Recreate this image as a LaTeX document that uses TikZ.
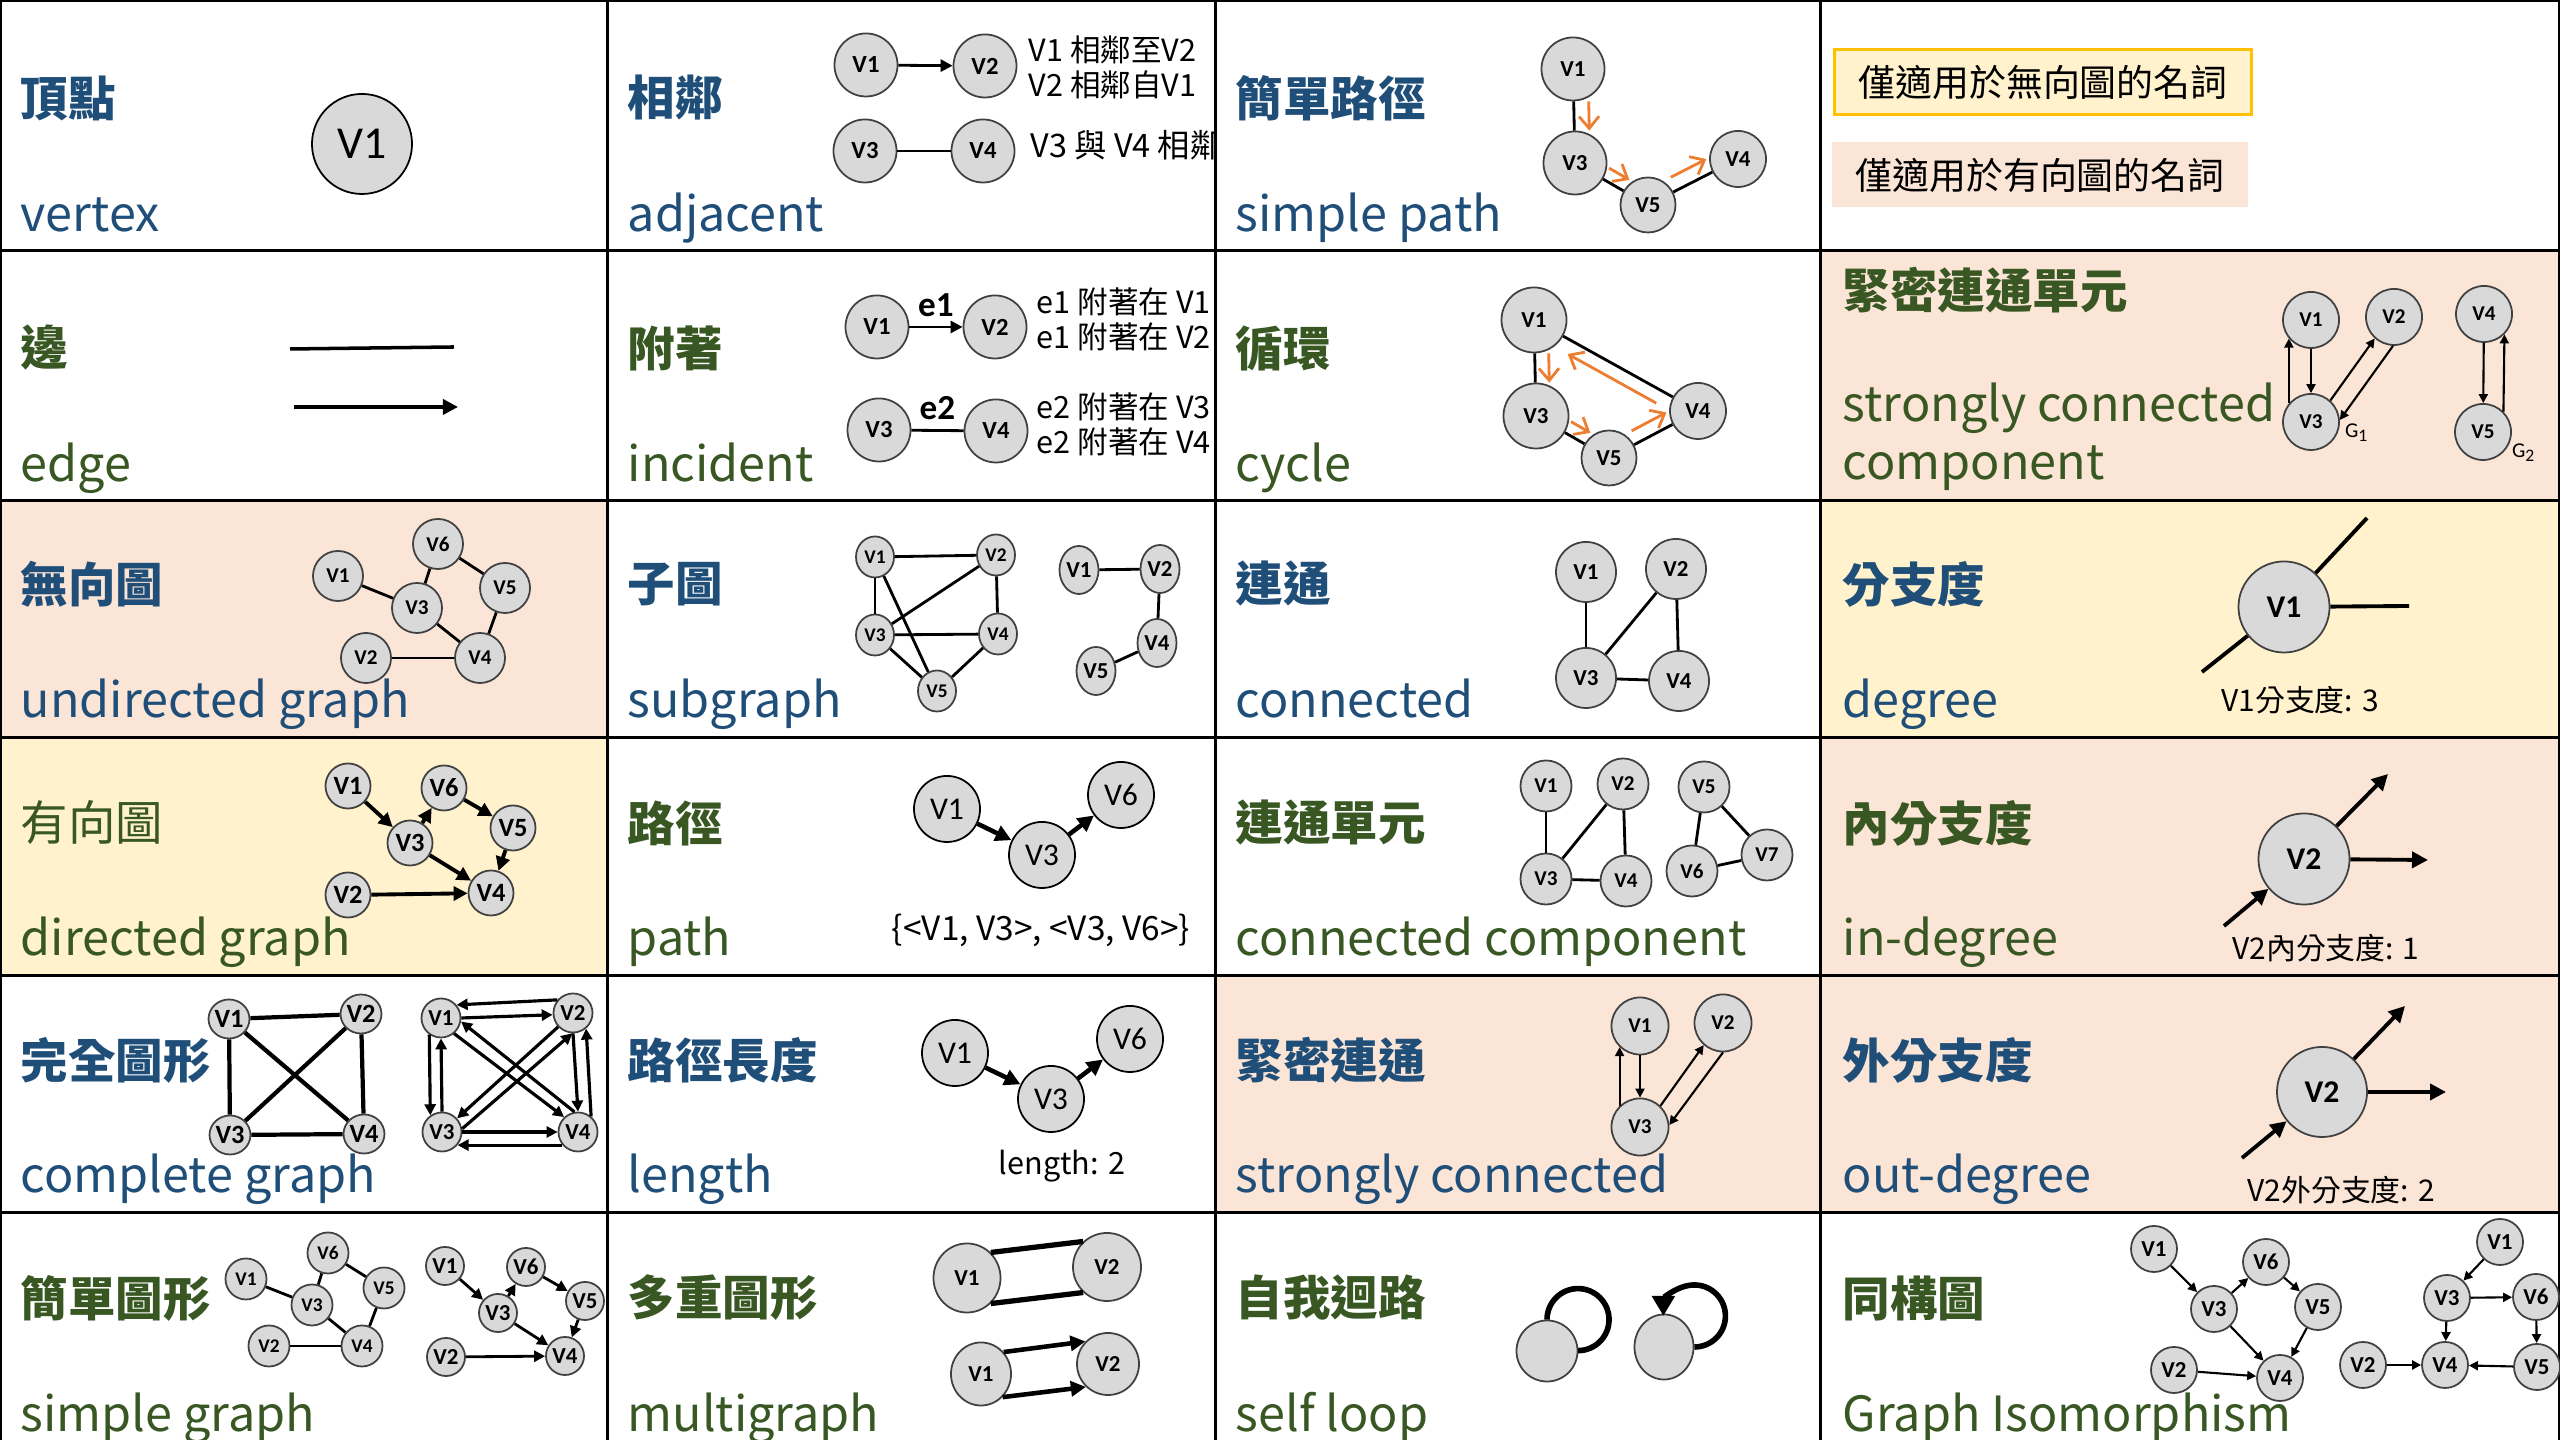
\documentclass[tikz,border=0pt]{standalone}
\usepackage{fontspec}
\setmainfont{Noto Sans CJK TC}
\newfontfamily\nodofont{Carlito}
\usetikzlibrary{arrows.meta,positioning,shapes.geometric,calc}
\definecolor{cazul}{HTML}{1F4E79}
\definecolor{cverde}{HTML}{385723}
\definecolor{cdurazno}{HTML}{FBE5D6}
\definecolor{camarillo}{HTML}{FFF2CC}
\definecolor{camarillob}{HTML}{FFC000}
\definecolor{cnodo}{HTML}{D9D9D9}
\definecolor{cnodob}{HTML}{404040}
\definecolor{cnaranja}{HTML}{ED7D31}
\newcommand{\tam}[1]{\fontsize{#1}{#1}\selectfont}
\tikzset{
  rejilla/.style={draw=black,line width=0.85pt},
  titulo/.style={anchor=west,inner sep=0pt,font=\tam{13.5pt}\bfseries},
  tituloen/.style={anchor=base west,inner sep=0pt,font=\tam{13.8pt}},
  tazul/.style={titulo,text=cazul},
  tverde/.style={titulo,text=cverde},
  eazul/.style={tituloen,text=cazul},
  everde/.style={tituloen,text=cverde},
  vertice/.style={ellipse,draw=cnodob,fill=cnodo,inner sep=0pt,line width=0.5pt,
                  minimum size=5mm,font=\nodofont\bfseries\tam{6pt}},
  arista/.style={draw=black,line width=0.8pt},
  flecha/.style={arista,-{Triangle[length=1.2mm,width=1.2mm]}},
  flechita/.style={draw=black,line width=0.6pt,-{Triangle[length=0.9mm,width=0.9mm]}},
  naranja/.style={draw=cnaranja,line width=0.8pt,-{Straight Barb[length=1.2mm,width=2mm]}},
  lazo/.style={draw=black,line width=1.6pt},
  nota/.style={inner sep=0pt,font=\tam{8.7pt}},
  etiq/.style={inner sep=0pt,font=\nodofont\bfseries\tam{10pt}},
  caja/.style={minimum width=41.6mm,minimum height=6.5mm,inner sep=0pt,font=\tam{10.5pt}},
}

\begin{document}
\begin{tikzpicture}[x=0.01cm,y=0.01cm]
\useasboundingbox (0,0) rectangle (2560,1440);
\clip (0,0) rectangle (2560,1440);

% fondos de las celdas
\fill[cdurazno] (1820,939) rectangle (2560,1189);
\fill[cdurazno] (0,702) rectangle (607,939);
\fill[camarillo] (1820,702) rectangle (2560,939);
\fill[camarillo] (0,464) rectangle (607,702);
\fill[cdurazno] (1820,464) rectangle (2560,702);
\fill[cdurazno] (1215,227) rectangle (1820,464);
\fill[cdurazno] (1820,227) rectangle (2560,464);

% rejilla
\draw[rejilla] (1,0) -- (1,1439) -- (2559,1439) -- (2559,0);
\foreach \x in {607,1215,1820} \draw[rejilla] (\x,0) -- (\x,1440);
\foreach \y in {1189,939,702,464,227} \draw[rejilla] (0,\y) -- (2560,\y);

% titulos
\node[tazul] (t-vertice) at (20,1342) {頂點};
\node[eazul] (e-vertice) at (20,1208) {vertex};
\node[tazul] (t-ady) at (627,1342) {相鄰};
\node[eazul] (e-ady) at (627,1208) {adjacent};
\node[tazul] (t-simple) at (1235,1342) {簡單路徑};
\node[eazul] (e-simple) at (1235,1208) {simple path};

\node[tverde] (t-arista) at (20,1092) {邊};
\node[everde] (e-arista) at (20,958) {edge};
\node[tverde] (t-inc) at (627,1092) {附著};
\node[everde] (e-inc) at (627,958) {incident};
\node[tverde] (t-ciclo) at (1235,1092) {循環};
\node[everde] (e-ciclo) at (1235,958) {cycle};
\node[tverde] (t-scc) at (1842,1150) {緊密連通單元};
\node[everde] (e-scc1) at (1842,1018) {strongly connected};
\node[everde] (e-scc2) at (1842,960) {component};

\node[tazul] (t-nodir) at (20,856) {無向圖};
\node[eazul] (e-nodir) at (20,722) {undirected graph};
\node[tazul] (t-sub) at (627,856) {子圖};
\node[eazul] (e-sub) at (627,722) {subgraph};
\node[tazul] (t-con) at (1235,856) {連通};
\node[eazul] (e-con) at (1235,722) {connected};
\node[tazul] (t-grado) at (1842,856) {分支度};
\node[eazul] (e-grado) at (1842,722) {degree};

\node[tverde,font=\tam{13.5pt}] (t-dir) at (20,617) {有向圖};
\node[everde] (e-dir) at (20,484) {directed graph};
\node[tverde] (t-cam) at (627,617) {路徑};
\node[everde] (e-cam) at (627,484) {path};
\node[tverde] (t-cc) at (1235,617) {連通單元};
\node[everde] (e-cc) at (1235,484) {connected component};
\node[tverde] (t-gin) at (1842,617) {內分支度};
\node[everde] (e-gin) at (1842,484) {in-degree};

\node[tazul] (t-comp) at (20,380) {完全圖形};
\node[eazul] (e-comp) at (20,247) {complete graph};
\node[tazul] (t-lon) at (627,380) {路徑長度};
\node[eazul] (e-lon) at (627,247) {length};
\node[tazul] (t-fuerte) at (1235,380) {緊密連通};
\node[eazul] (e-fuerte) at (1235,247) {strongly connected};
\node[tazul] (t-gout) at (1842,380) {外分支度};
\node[eazul] (e-gout) at (1842,247) {out-degree};

\node[tverde] (t-sg) at (20,142) {簡單圖形};
\node[everde] (e-sg) at (20,8) {simple graph};
\node[tverde] (t-mul) at (627,142) {多重圖形};
\node[everde] (e-mul) at (627,8) {multigraph};
\node[tverde] (t-lazo) at (1235,142) {自我迴路};
\node[everde] (e-lazo) at (1235,8) {self loop};
\node[tverde] (t-iso) at (1842,142) {同構圖};
\node[everde] (e-iso) at (1842,8) {Graph Isomorphism};

% leyenda
\node[caja,fill=camarillo,draw=camarillob,line width=0.8pt] (ley-a) at (2043,1358) {僅適用於無向圖的名詞};
\node[caja,fill=cdurazno] (ley-b) at (2040,1265) {僅適用於有向圖的名詞};

% vertex
\node[vertice,minimum size=10mm,draw=black,font=\nodofont\tam{13pt}] (vtx-v1) at (362,1296) {V1};

% edge
\coordinate (ari-a) at (290,1091);
\coordinate (ari-b) at (454,1093);
\coordinate (ari-c) at (294,1033);
\coordinate (ari-d) at (458,1033);
\draw[arista,line width=1pt] (ari-a) -- (ari-b);
\draw[arista,line width=1pt,-{Triangle[length=1.5mm,width=1.5mm]}] (ari-c) -- (ari-d);

% adjacent
\begin{scope}[vertice/.append style={minimum size=6.3mm,font=\nodofont\bfseries\tam{7pt}}]
\node[vertice] (ady-v1) at (866,1375) {V1};
\node[vertice] (ady-v2) at (985,1374) {V2};
\node[vertice] (ady-v3) at (865,1289) {V3};
\node[vertice] (ady-v4) at (983,1289) {V4};
\end{scope}
\draw[flecha] (ady-v1) -- (ady-v2);
\draw[arista] (ady-v3) -- (ady-v4);
\node[nota,anchor=west] (ady-t1) at (1028,1390) {V1 相鄰至V2};
\node[nota,anchor=west] (ady-t2) at (1028,1355) {V2 相鄰自V1};
\begin{scope}
\clip (607,1189) rectangle (1215,1440);
\node[nota,anchor=west,font=\tam{9.2pt}] (ady-t3) at (1030,1295) {V3 與 V4 相鄰};
\end{scope}

% incident
\begin{scope}[vertice/.append style={minimum size=6.3mm,font=\nodofont\bfseries\tam{7pt}}]
\node[vertice] (inc-v1) at (877,1113) {V1};
\node[vertice] (inc-v2) at (995,1113) {V2};
\node[vertice] (inc-v3) at (879,1010) {V3};
\node[vertice] (inc-v4) at (996,1009) {V4};
\end{scope}
\draw[flecha] (inc-v1) -- node[etiq,midway,above=0.9mm] (inc-e1) {e1} (inc-v2);
\draw[arista] (inc-v3) -- node[etiq,midway,above=0.9mm] (inc-e2) {e2} (inc-v4);
\node[nota,anchor=west] (inc-t1) at (1036,1138) {e1 附著在 V1};
\node[nota,anchor=west] (inc-t2) at (1036,1103) {e1 附著在 V2};
\node[nota,anchor=west] (inc-t3) at (1036,1033) {e2 附著在 V3};
\node[nota,anchor=west] (inc-t4) at (1036,998) {e2 附著在 V4};

% simple path
\begin{scope}[vertice/.append style={minimum size=6.3mm,font=\nodofont\bfseries\tam{6.5pt}}]
\node[vertice] (sp-v1) at (1573,1371) {V1};
\node[vertice] (sp-v3) at (1575,1277) {V3};
\node[vertice,minimum size=5.5mm] (sp-v5) at (1648,1235) {V5};
\node[vertice,minimum size=5.6mm] (sp-v4) at (1738,1281) {V4};
\end{scope}
\draw[arista] (sp-v1) -- (sp-v3);
\draw[arista] (sp-v3) -- (sp-v5);
\draw[arista] (sp-v5) -- (sp-v4);
\draw[naranja,transform canvas={shift={(15,0)}}] (sp-v1) -- (sp-v3);
\draw[naranja,transform canvas={shift={(6,11)}}] (sp-v3) -- (sp-v5);
\draw[naranja,transform canvas={shift={(-6,13)}},shorten <=0.4mm] (sp-v5) -- (sp-v4);

% cycle
\begin{scope}[vertice/.append style={minimum size=6.5mm,font=\nodofont\bfseries\tam{6.5pt}}]
\node[vertice] (cy-v1) at (1534,1120) {V1};
\node[vertice] (cy-v3) at (1536,1024) {V3};
\node[vertice,minimum size=5.5mm] (cy-v5) at (1609,982) {V5};
\node[vertice,minimum size=5.6mm] (cy-v4) at (1698,1029) {V4};
\end{scope}
\draw[arista] (cy-v1) -- (cy-v3);
\draw[arista] (cy-v3) -- (cy-v5);
\draw[arista] (cy-v5) -- (cy-v4);
\draw[arista] (cy-v4) -- (cy-v1);
\draw[naranja,transform canvas={shift={(14,0)}}] (cy-v1) -- (cy-v3);
\draw[naranja,transform canvas={shift={(6,11)}}] (cy-v3) -- (cy-v5);
\draw[naranja,transform canvas={shift={(-6,12)}},shorten <=0.4mm] (cy-v5) -- (cy-v4);
\draw[naranja,transform canvas={shift={(-6,-12)}},shorten <=1.2mm,shorten >=1.2mm] (cy-v4) -- (cy-v1);

% strongly connected component
\begin{scope}[vertice/.append style={minimum size=5.6mm,font=\nodofont\bfseries\tam{6pt}}]
\node[vertice] (scc-v1) at (2311,1120) {V1};
\node[vertice] (scc-v2) at (2394,1123) {V2};
\node[vertice] (scc-v3) at (2311,1018) {V3};
\node[vertice] (scc-v4) at (2484,1126) {V4};
\node[vertice] (scc-v5) at (2483,1008) {V5};
\end{scope}
\draw[flechita] (scc-v1) -- (scc-v3);
\draw[flechita] (scc-v3.140) -- (scc-v1.220);
\draw[flechita] (scc-v3.48) -- (scc-v2.228);
\draw[flechita] (scc-v2.268) -- (scc-v3.4);
\draw[flechita] (scc-v4) -- (scc-v5);
\draw[flechita] (scc-v5.45) -- (scc-v4.315);
\node[font=\nodofont\tam{6pt},inner sep=0pt] (scc-g1) at (2357,1007) {G\textsubscript{1}};
\node[font=\nodofont\tam{6pt},inner sep=0pt] (scc-g2) at (2524,987) {G\textsubscript{2}};

% undirected graph
\begin{scope}[vertice/.append style={minimum size=5mm,font=\nodofont\bfseries\tam{6pt}}]
\node[vertice] (nd-v1) at (338,864) {V1};
\node[vertice] (nd-v6) at (438,896) {V6};
\node[vertice] (nd-v3) at (417,832) {V3};
\node[vertice] (nd-v5) at (505,852) {V5};
\node[vertice] (nd-v2) at (366,782) {V2};
\node[vertice] (nd-v4) at (480,782) {V4};
\end{scope}
\draw[arista] (nd-v1) -- (nd-v3);
\draw[arista] (nd-v3) -- (nd-v6);
\draw[arista] (nd-v6) -- (nd-v5);
\draw[arista] (nd-v5) -- (nd-v4);
\draw[arista] (nd-v3) -- (nd-v4);
\draw[arista] (nd-v2) -- (nd-v4);

% directed graph
\begin{scope}[vertice/.append style={minimum size=4.5mm,font=\nodofont\bfseries\tam{7.5pt}},
              flecha/.append style={line width=1.1pt,-{Triangle[length=1.4mm,width=1.4mm]}}]
\node[vertice] (dg-v1) at (348,654) {V1};
\node[vertice] (dg-v6) at (444,652) {V6};
\node[vertice] (dg-v3) at (410,597) {V3};
\node[vertice] (dg-v5) at (513,612) {V5};
\node[vertice] (dg-v2) at (348,545) {V2};
\node[vertice] (dg-v4) at (491,547) {V4};
\draw[flecha] (dg-v1) -- (dg-v3);
\draw[flecha] (dg-v3) -- (dg-v6);
\draw[flecha] (dg-v6) -- (dg-v5);
\draw[flecha] (dg-v5) -- (dg-v4);
\draw[flecha] (dg-v3) -- (dg-v4);
\draw[flecha] (dg-v2) -- (dg-v4);
\end{scope}

% subgraph
\begin{scope}[vertice/.append style={minimum width=3.8mm,minimum height=4.1mm,font=\nodofont\bfseries\tam{5.5pt}}]
\node[vertice] (sub-v1) at (875,883) {V1};
\node[vertice] (sub-v2) at (996,885) {V2};
\node[vertice] (sub-v3) at (875,805) {V3};
\node[vertice] (sub-v4) at (998,806) {V4};
\node[vertice] (sub-v5) at (937,749) {V5};
\end{scope}
\draw[arista] (sub-v1) -- (sub-v2);
\draw[arista] (sub-v1) -- (sub-v3);
\draw[arista] (sub-v1) -- (sub-v5);
\draw[arista] (sub-v2) -- (sub-v3);
\draw[arista] (sub-v2) -- (sub-v4);
\draw[arista] (sub-v3) -- (sub-v4);
\draw[arista] (sub-v3) -- (sub-v5);
\draw[arista] (sub-v4) -- (sub-v5);
\begin{scope}[vertice/.append style={minimum width=3.9mm,minimum height=4.8mm,font=\nodofont\bfseries\tam{6.5pt}}]
\node[vertice] (sub-w1) at (1079,870) {V1};
\node[vertice] (sub-w2) at (1160,871) {V2};
\node[vertice] (sub-w4) at (1157,797) {V4};
\node[vertice] (sub-w5) at (1096,769) {V5};
\end{scope}
\draw[arista] (sub-w1) -- (sub-w2);
\draw[arista] (sub-w2) -- (sub-w4);
\draw[arista] (sub-w4) -- (sub-w5);

% path
\begin{scope}[vertice/.append style={minimum size=6.6mm,draw=black,font=\nodofont\tam{9pt}},
              flecha/.append style={line width=1.3pt,-{Triangle[length=1.6mm,width=1.6mm]}}]
\node[vertice] (cam-v1) at (947,631) {V1};
\node[vertice] (cam-v3) at (1042,585) {V3};
\node[vertice] (cam-v6) at (1121,645) {V6};
\draw[flecha] (cam-v1) -- (cam-v3);
\draw[flecha] (cam-v3) -- (cam-v6);
\end{scope}
\node[nota,font=\tam{9.5pt}] (cam-t) at (1041,510) {\{<V1, V3>, <V3, V6>\}};

% connected
\begin{scope}[vertice/.append style={minimum size=6mm,font=\nodofont\bfseries\tam{6.5pt}}]
\node[vertice] (con-v1) at (1586,868) {V1};
\node[vertice] (con-v2) at (1676,871) {V2};
\node[vertice] (con-v3) at (1586,762) {V3};
\node[vertice] (con-v4) at (1679,759) {V4};
\end{scope}
\draw[arista] (con-v1) -- (con-v3);
\draw[arista] (con-v2) -- (con-v3);
\draw[arista] (con-v2) -- (con-v4);
\draw[arista] (con-v3) -- (con-v4);

% connected component
\begin{scope}[vertice/.append style={minimum size=5.1mm,font=\nodofont\bfseries\tam{6pt}}]
\node[vertice] (cc-v1) at (1546,654) {V1};
\node[vertice] (cc-v2) at (1623,656) {V2};
\node[vertice] (cc-v3) at (1546,561) {V3};
\node[vertice] (cc-v4) at (1626,559) {V4};
\node[vertice] (cc-v5) at (1704,653) {V5};
\node[vertice] (cc-v7) at (1767,585) {V7};
\node[vertice] (cc-v6) at (1692,569) {V6};
\end{scope}
\draw[arista] (cc-v1) -- (cc-v3);
\draw[arista] (cc-v2) -- (cc-v3);
\draw[arista] (cc-v2) -- (cc-v4);
\draw[arista] (cc-v3) -- (cc-v4);
\draw[arista] (cc-v5) -- (cc-v6);
\draw[arista] (cc-v5) -- (cc-v7);
\draw[arista] (cc-v6) -- (cc-v7);

% degree
\node[vertice,minimum size=9.1mm,font=\nodofont\bfseries\tam{9pt}] (deg-v1) at (2284,833) {V1};
\coordinate (deg-a) at (2367,922);
\coordinate (deg-b) at (2409,834);
\coordinate (deg-c) at (2202,768);
\draw[arista,line width=1.1pt] (deg-v1) -- (deg-a);
\draw[arista,line width=1.1pt] (deg-v1) -- (deg-b);
\draw[arista,line width=1.1pt] (deg-v1) -- (deg-c);
\node[nota,font=\tam{8.5pt}] (deg-t) at (2300,740) {V1分支度: 3};

% in-degree
\begin{scope}[flecha/.append style={line width=1.1pt,-{Triangle[length=1.6mm,width=1.6mm]}}]
\node[vertice,minimum size=9.1mm,font=\nodofont\bfseries\tam{9pt}] (gin-v2) at (2304,581) {V2};
\coordinate (gin-a) at (2388,666);
\coordinate (gin-b) at (2428,580);
\coordinate (gin-c) at (2224,514);
\draw[flecha] (gin-v2) -- (gin-a);
\draw[flecha] (gin-v2) -- (gin-b);
\draw[flecha] (gin-c) -- (gin-v2);
\node[nota,font=\tam{8.5pt}] (gin-t) at (2326,492) {V2內分支度: 1};

% out-degree
\node[vertice,minimum size=9mm,font=\nodofont\bfseries\tam{9pt}] (gout-v2) at (2322,348) {V2};
\coordinate (gout-a) at (2405,434);
\coordinate (gout-b) at (2446,348);
\coordinate (gout-c) at (2242,282);
\draw[flecha] (gout-v2) -- (gout-a);
\draw[flecha] (gout-v2) -- (gout-b);
\draw[flecha] (gout-c) -- (gout-v2);
\node[nota,font=\tam{8.5pt}] (gout-t) at (2341,250) {V2外分支度: 2};
\end{scope}

% complete graph
\begin{scope}[vertice/.append style={minimum size=3.9mm,font=\nodofont\bfseries\tam{7.5pt}}]
\node[vertice] (cg-v1) at (229,421) {V1};
\node[vertice] (cg-v2) at (361,426) {V2};
\node[vertice] (cg-v3) at (230,305) {V3};
\node[vertice] (cg-v4) at (364,306) {V4};
\end{scope}
\foreach \a/\b in {1/2,1/3,1/4,2/3,2/4,3/4}
  \draw[arista,line width=1.2pt] (cg-v\a) -- (cg-v\b);
\begin{scope}[vertice/.append style={minimum size=3.9mm,font=\nodofont\bfseries\tam{6.5pt}},
              flecha/.append style={line width=0.9pt,-{Triangle[length=1.1mm,width=1.1mm]}}]
\node[vertice] (cd-v1) at (441,422) {V1};
\node[vertice] (cd-v2) at (573,427) {V2};
\node[vertice] (cd-v3) at (442,308) {V3};
\node[vertice] (cd-v4) at (578,308) {V4};
\draw[flecha] (cd-v2.140) -- (cd-v1.40);
\draw[flecha] (cd-v1.0) -- (cd-v2.185);
\draw[flecha] (cd-v1.235) -- (cd-v3.125);
\draw[flecha] (cd-v3.90) -- (cd-v1.270);
\draw[flecha] (cd-v2.270) -- (cd-v4.90);
\draw[flecha] (cd-v4.50) -- (cd-v2.310);
\draw[flecha] (cd-v3.0) -- (cd-v4.180);
\draw[flecha] (cd-v4.220) -- (cd-v3.320);
\draw[flecha] (cd-v1.310) -- (cd-v4.133);
\draw[flecha] (cd-v4.100) -- (cd-v1.350);
\draw[flecha] (cd-v2.223) -- (cd-v3.42);
\draw[flecha] (cd-v3.9) -- (cd-v2.268);
\end{scope}

% simple graph
\begin{scope}[vertice/.append style={minimum size=4.1mm,font=\nodofont\bfseries\tam{5.5pt}}]
\node[vertice] (sg-v1) at (246,161) {V1};
\node[vertice] (sg-v6) at (328,187) {V6};
\node[vertice] (sg-v3) at (312,135) {V3};
\node[vertice] (sg-v5) at (384,152) {V5};
\node[vertice] (sg-v2) at (269,94) {V2};
\node[vertice] (sg-v4) at (362,94) {V4};
\end{scope}
\draw[arista] (sg-v1) -- (sg-v3);
\draw[arista] (sg-v3) -- (sg-v6);
\draw[arista] (sg-v6) -- (sg-v5);
\draw[arista] (sg-v5) -- (sg-v4);
\draw[arista] (sg-v3) -- (sg-v4);
\draw[arista] (sg-v2) -- (sg-v4);
\begin{scope}[vertice/.append style={minimum size=3.8mm,font=\nodofont\bfseries\tam{6.5pt}},
              flecha/.append style={-{Triangle[length=1.1mm,width=1.1mm]}}]
\node[vertice] (sd-v1) at (445,174) {V1};
\node[vertice] (sd-v6) at (526,173) {V6};
\node[vertice] (sd-v3) at (498,127) {V3};
\node[vertice] (sd-v5) at (585,139) {V5};
\node[vertice] (sd-v2) at (446,83) {V2};
\node[vertice] (sd-v4) at (565,84) {V4};
\draw[flecha] (sd-v1) -- (sd-v3);
\draw[flecha] (sd-v3) -- (sd-v6);
\draw[flecha] (sd-v6) -- (sd-v5);
\draw[flecha] (sd-v5) -- (sd-v4);
\draw[flecha] (sd-v3) -- (sd-v4);
\draw[flecha] (sd-v2) -- (sd-v4);
\end{scope}

% length
\begin{scope}[vertice/.append style={minimum size=6.6mm,draw=black,font=\nodofont\tam{9pt}},
              flecha/.append style={line width=1.3pt,-{Triangle[length=1.6mm,width=1.6mm]}}]
\node[vertice] (lon-v1) at (955,387) {V1};
\node[vertice] (lon-v3) at (1051,341) {V3};
\node[vertice] (lon-v6) at (1130,401) {V6};
\draw[flecha] (lon-v1) -- (lon-v3);
\draw[flecha] (lon-v3) -- (lon-v6);
\end{scope}
\node[nota] (lon-t) at (1062,274) {length: 2};

% multigraph
\begin{scope}[vertice/.append style={font=\nodofont\bfseries\tam{6.5pt}}]
\node[vertice,minimum width=6.7mm,minimum height=6.9mm] (mul-v1) at (967,162) {V1};
\node[vertice,minimum size=6.8mm] (mul-v2) at (1107,173) {V2};
\node[vertice,minimum width=6mm,minimum height=6.3mm] (mul-w1) at (981,66) {V1};
\node[vertice,minimum size=6.2mm] (mul-w2) at (1108,76) {V2};
\end{scope}
\draw[arista,line width=1.5pt] (mul-v1.47) -- (mul-v2.133);
\draw[arista,line width=1.5pt] (mul-v1.313) -- (mul-v2.227);
\draw[flecha,line width=1.3pt,-{Triangle[length=1.5mm,width=1.5mm]}] (mul-w1.44) -- (mul-w2.135);
\draw[flecha,line width=1.3pt,-{Triangle[length=1.5mm,width=1.5mm]}] (mul-w1.313) -- (mul-w2.226);

% strongly connected
\begin{scope}[vertice/.append style={minimum size=5.7mm,font=\nodofont\bfseries\tam{6pt}}]
\node[vertice] (sc-v1) at (1640,414) {V1};
\node[vertice] (sc-v2) at (1723,417) {V2};
\node[vertice] (sc-v3) at (1640,313) {V3};
\end{scope}
\draw[flechita] (sc-v1) -- (sc-v3);
\draw[flechita] (sc-v3.134) -- (sc-v1.226);
\draw[flechita] (sc-v3.46) -- (sc-v2.229);
\draw[flechita] (sc-v2.270) -- (sc-v3.4);

% self loop
\node[vertice,minimum size=6.1mm] (lz-v1) at (1547,89) {};
\node[vertice,minimum width=5.9mm,minimum height=6.5mm] (lz-v2) at (1664,93) {};
\draw[lazo] (lz-v1.north) arc[start angle=180,end angle=-90,radius=3.1mm];
\draw[lazo,-{Triangle[length=2mm,width=2.2mm]}] (lz-v2.east) arc[start angle=-90,end angle=180,radius=3.1mm];

% isomorphism
\begin{scope}[vertice/.append style={minimum size=4.6mm,font=\nodofont\bfseries\tam{6.5pt}}]
\node[vertice] (iso-v1) at (2154,191) {V1};
\node[vertice] (iso-v3) at (2214,131) {V3};
\node[vertice] (iso-v6) at (2266,178) {V6};
\node[vertice] (iso-v5) at (2318,133) {V5};
\node[vertice] (iso-v2) at (2174,70) {V2};
\node[vertice] (iso-v4) at (2280,62) {V4};
\node[vertice] (isr-v1) at (2500,198) {V1};
\node[vertice] (isr-v3) at (2447,142) {V3};
\node[vertice] (isr-v6) at (2536,143) {V6};
\node[vertice] (isr-v2) at (2363,75) {V2};
\node[vertice] (isr-v4) at (2445,75) {V4};
\node[vertice] (isr-v5) at (2537,73) {V5};
\end{scope}
\draw[flechita] (iso-v1) -- (iso-v3);
\draw[flechita] (iso-v3) -- (iso-v6);
\draw[flechita] (iso-v6) -- (iso-v5);
\draw[flechita] (iso-v3) -- (iso-v4);
\draw[flechita] (iso-v5) -- (iso-v4);
\draw[flechita] (iso-v2) -- (iso-v4);
\draw[flechita] (isr-v1) -- (isr-v3);
\draw[flechita] (isr-v3) -- (isr-v6);
\draw[flechita] (isr-v3) -- (isr-v4);
\draw[flechita] (isr-v6) -- (isr-v5);
\draw[flechita] (isr-v5) -- (isr-v4);
\draw[flechita] (isr-v2) -- (isr-v4);

\end{tikzpicture}
\end{document}
